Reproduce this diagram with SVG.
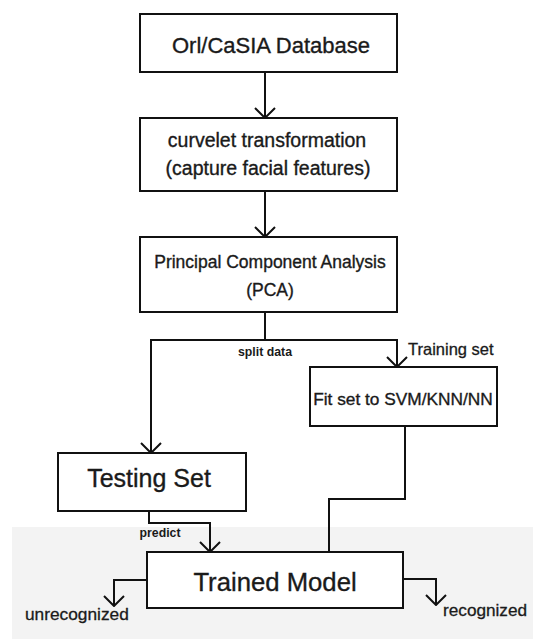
<svg xmlns="http://www.w3.org/2000/svg" width="533" height="639" viewBox="0 0 533 639">
  <style>
    .box { fill: #ffffff; stroke: #111111; stroke-width: 2; }
    .line { fill: none; stroke: #111111; stroke-width: 2; }
    .t { font-family: "Liberation Sans", Arial, sans-serif; fill: #1a1a1a; text-anchor: middle; stroke: #1a1a1a; stroke-width: 0.35; }
    .lbl { font-family: "Liberation Sans", Arial, sans-serif; fill: #1a1a1a; stroke: #1a1a1a; stroke-width: 0.3; }
    .sm { font-family: "Liberation Sans", Arial, sans-serif; fill: #1a1a1a; text-anchor: middle; font-weight: bold; }
  </style>
  <defs>
    <marker id="arr" markerUnits="userSpaceOnUse" viewBox="0 0 12 22" refX="11" refY="11" markerWidth="12" markerHeight="22" orient="auto">
      <path d="M1,1 L11,11 L1,21" fill="none" stroke="#111111" stroke-width="2"/>
    </marker>
  </defs>
  <rect width="533" height="639" fill="#ffffff"/>
  <rect id="bg" x="12" y="527" width="521" height="112" fill="#f3f3f3"/>

  <g id="connectors">
    <path class="line" d="M265,72 V118" marker-end="url(#arr)"/>
    <path class="line" d="M265,191 V237" marker-end="url(#arr)"/>
    <path class="line" d="M265,312 V340"/>
    <path class="line" d="M265,340 H151 V453" marker-end="url(#arr)"/>
    <path class="line" d="M265,340 H397 V367" marker-end="url(#arr)"/>
    <path class="line" d="M405,426 V499 H329 V552"/>
    <path class="line" d="M149,511 V523 H210 V552" marker-end="url(#arr)"/>
    <path class="line" d="M147,580 H114 V606" marker-end="url(#arr)"/>
    <path class="line" d="M403,579 H436 V605" marker-end="url(#arr)"/>
    <text class="sm" x="265" y="356" font-size="12.3">split data</text>
    <text class="lbl" x="408" y="355" font-size="16.5">Training set</text>
    <text class="sm" x="160" y="537" font-size="12.3">predict</text>
    <text class="lbl" x="25" y="620" font-size="17.3">unrecognized</text>
    <text class="lbl" x="443" y="616" font-size="17.2">recognized</text>
  </g>

  <g id="orl">
    <rect class="box" x="140" y="14" width="257" height="58"/>
    <text class="t" x="271" y="53" font-size="22">Orl/CaSIA Database</text>
  </g>
  <g id="curvelet">
    <rect class="box" x="140" y="118" width="257" height="73"/>
    <text class="t" x="267" y="147" font-size="19.5">curvelet transformation</text>
    <text class="t" x="268" y="175" font-size="19.5">(capture facial features)</text>
  </g>
  <g id="pca">
    <rect class="box" x="140" y="237" width="257" height="75"/>
    <text class="t" x="270" y="268" font-size="17.5">Principal Component Analysis</text>
    <text class="t" x="270" y="296" font-size="17.5">(PCA)</text>
  </g>
  <g id="fit">
    <rect class="box" x="310" y="367" width="187" height="59"/>
    <text class="t" x="403" y="405" font-size="17.3">Fit set to SVM/KNN/NN</text>
  </g>
  <g id="testing">
    <rect class="box" x="58" y="453" width="188" height="58"/>
    <text class="t" x="149" y="487" font-size="25">Testing Set</text>
  </g>
  <g id="trained">
    <rect class="box" x="147" y="552" width="256" height="56"/>
    <text class="t" x="275" y="591" font-size="25.7">Trained Model</text>
  </g>
</svg>
